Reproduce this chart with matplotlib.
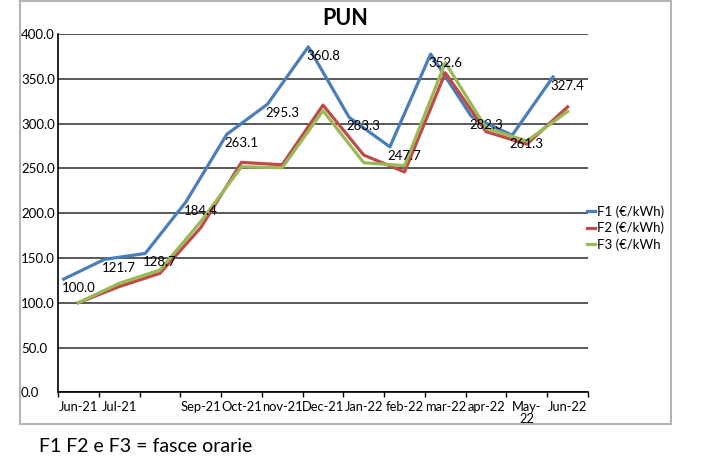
import matplotlib
matplotlib.use("Agg")
import matplotlib.pyplot as plt
from matplotlib.patches import Rectangle
from matplotlib.lines import Line2D
import numpy as np

plt.rcParams['font.family'] = ['Lato', 'DejaVu Sans']

# ---- data ----
MONTHS = ['Jun-21', 'Jul-21', '', 'Sep-21', 'Oct-21', 'nov-21', 'Dec-21',
          'Jan-22', 'feb-22', 'mar-22', 'apr-22', 'May-\n22', 'Jun-22']
F1 = [126.4, 148.4, 155.0, 212.7, 288.0, 321.7, 385.7, 307.0, 274.0, 377.6, 308.0, 287.0, 352.0]
F2 = [100.0, 118.0, 132.8, 183.7, 256.7, 254.0, 320.6, 264.8, 246.0, 356.7, 291.0, 277.0, 318.7]
F3 = [100.0, 121.6, 136.5, 190.4, 251.8, 250.7, 314.3, 256.3, 253.0, 368.0, 295.0, 280.5, 313.5]
INDEX_LABELS = ['100.0', '121.7', '128.7', '184.4', '263.1', '295.3', '360.8',
                '283.3', '247.7', '352.6', '282.3', '261.3', '327.4']
SERIES_NAMES = ['F1 (€/kWh)', 'F2 (€/kWh)', 'F3 (€/kWh']
Y_TICKS = [0, 50, 100, 150, 200, 250, 300, 350, 400]

# ---- style ----
C_BLUE = '#4A7EBB'
C_RED = '#BE4B48'
C_GREEN = '#98B954'
F1_SHIFT = -0.36
LW = 2.3

W, H = 701, 475
fig = plt.figure(figsize=(W / 100, H / 100), dpi=100)
ax = fig.add_axes([58 / W, (H - 392.3) / H, (588 - 58) / W, (392.3 - 34) / H])

# chart border
fig.patches.append(Rectangle((20 / W, (H - 424) / H), (671 - 20) / W, (424 - 1) / H,
                             transform=fig.transFigure, fill=False,
                             edgecolor='#b5b5b5', lw=1.5))

x = np.arange(len(MONTHS))
ax.plot(x + F1_SHIFT, F1, color=C_BLUE, lw=LW, solid_joinstyle='round', zorder=3)
ax.plot(x, F2, color=C_RED, lw=LW, solid_joinstyle='round', zorder=3)
ax.plot(x, F3, color=C_GREEN, lw=LW, solid_joinstyle='round', zorder=4)

for i, (v, lab) in enumerate(zip(F1, INDEX_LABELS)):
    ax.annotate(lab, xy=(i, v), xytext=(0, -6.5), textcoords='offset points',
                ha='center', va='center', fontsize=9.5, color='black', zorder=5)

ax.set_xlim(-0.5, len(MONTHS) - 0.5)
ax.set_ylim(0, 400)

# y axis
ax.set_yticks(Y_TICKS)
ax.set_yticklabels([f"{v:.1f}" for v in Y_TICKS], fontsize=9.5)
for t in ax.get_yticklabels():
    t.set_horizontalalignment('left')
ax.tick_params(axis='y', length=0, pad=26.6)
ax.yaxis.grid(True, color='#3c3c3c', lw=1.2)
ax.set_axisbelow(True)

# x axis
ax.set_xticks(np.arange(-0.5, len(MONTHS), 1))
ax.set_xticklabels([])
ax.set_xticks(x, minor=True)
ax.set_xticklabels(MONTHS, minor=True, fontsize=9.3, linespacing=1.05)
ax.tick_params(axis='x', which='major', length=3.5, width=1, direction='out', color='black')
ax.tick_params(axis='x', which='minor', length=0, pad=6)

for s in ['top', 'right']:
    ax.spines[s].set_visible(False)
for s in ['left', 'bottom']:
    ax.spines[s].set_color('black')
    ax.spines[s].set_linewidth(1.2)

# title
fig.text(345.5 / W, 1 - 18.5 / H, 'PUN', ha='center', va='center',
         fontsize=15.5, fontweight='bold')

# legend
handles = [Line2D([], [], color=c, lw=LW) for c in (C_BLUE, C_RED, C_GREEN)]
fig.legend(handles, SERIES_NAMES, loc='center left',
           bbox_to_anchor=(587 / W, 1 - 228 / H), bbox_transform=fig.transFigure,
           frameon=False, handlelength=0.6, handletextpad=0.15, labelspacing=0.3,
           borderpad=0, borderaxespad=0, fontsize=9.5)

# footnote
fig.text(39 / W, 1 - 447 / H, 'F1 F2 e F3 = fasce orarie', ha='left', va='center',
         fontsize=14)

fig.savefig('out.png', dpi=100)
